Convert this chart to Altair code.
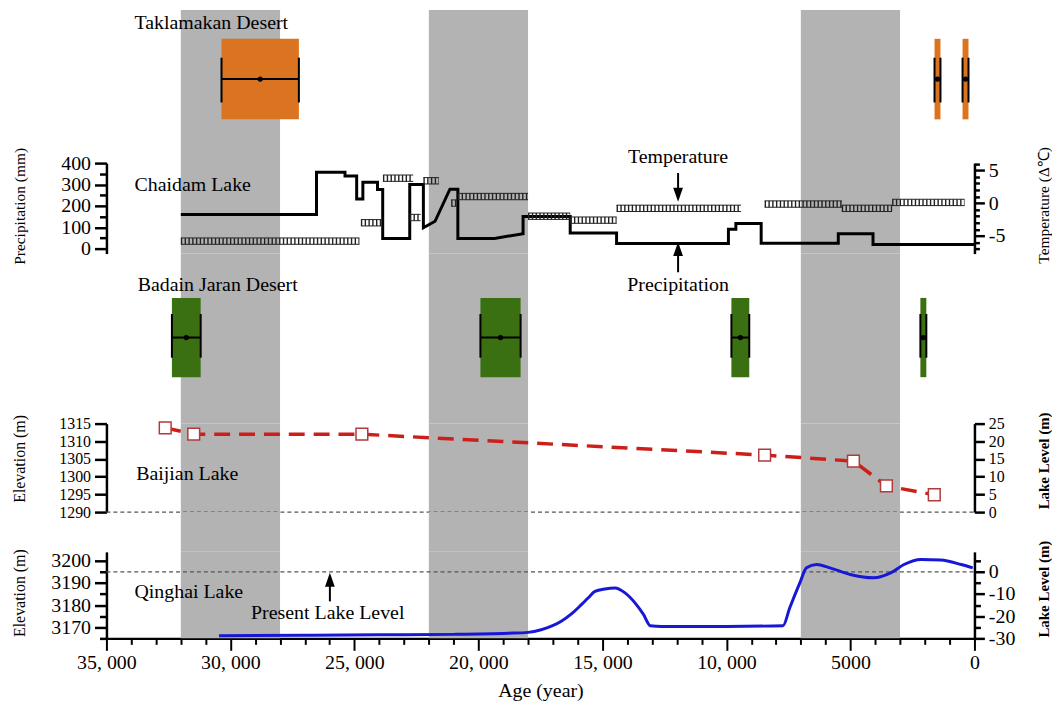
import altair as alt
import pandas as pd

FONT = "Liberation Serif"

# ---------------- data ----------------
# grey (cold) intervals, years BP
band_start = [32000, 22000, 7000]
band_end = [28000, 18000, 3000]

# Taklamakan Desert dated ages and errors (yr)
tak_age = [28800, 1490, 360]
tak_err = [1560, 120, 120]

# Badain Jaran Desert dated ages and errors (yr)
bad_age = [31780, 19110, 9440, 2060]
bad_err = [580, 810, 360, 120]

# Chaidam Lake precipitation (mm), outline vertices
pre_age = [32000, 26530, 26530, 25380, 25380, 24910, 24910, 24660, 24660, 24070,
           24070, 23860, 23860, 22770, 22770, 22220, 22220, 21750, 21150, 20830,
           20830, 19350, 18200, 18200, 16300, 16300, 14430, 14430, 9920, 9920,
           9620, 9620, 8600, 8600, 5490, 5490, 4090, 4090, 0]
pre_mm = [160, 160, 357, 357, 340, 340, 232, 232, 310, 310,
          277, 277, 48, 48, 300, 300, 98, 128, 278, 278,
          48, 48, 70, 150, 150, 73, 73, 24, 24, 91,
          91, 118, 118, 25, 25, 70, 70, 19, 19]

# Chaidam Lake temperature anomaly segments (deg C)
tmp_start = [32000, 24740, 23850, 22770, 22220, 21100, 20830, 18000, 16300, 14430, 8460, 5350, 3320]
tmp_end = [24800, 23920, 22630, 22330, 21590, 20850, 18000, 16300, 14430, 9410, 5350, 3320, 400]
tmp_val = [-5.8, -3.0, 3.8, -2.2, 3.4, 0.0, 1.0, -2.0, -2.6, -0.8, -0.15, -0.8, 0.1]

# Baijian Lake
bai_age = [32630, 31480, 24700, 8460, 4880, 3550, 1620]
bai_level = [23.8, 22.0, 22.0, 16.1, 14.4, 7.4, 4.9]
bai_base = 1290

# Qinghai Lake
qh_age = [30460, 27000, 24000, 21000, 18800, 18000, 17470, 16660, 16250, 15850,
          15580, 15300, 14900, 14490, 14090, 13680, 13340, 13070, 12600, 10000,
          7720, 7450, 7040, 6770, 6370, 5830, 5010, 4060, 3380, 2840,
          2170, 1360, 540, 70]
qh_elev = [3166.2, 3166.4, 3166.6, 3166.8, 3167.3, 3167.7, 3168.9, 3172.7, 3176.0, 3180.2,
           3183.2, 3186.2, 3187.3, 3187.7, 3185.5, 3180.9, 3175.7, 3170.7, 3170.4, 3170.4,
           3170.7, 3178.7, 3190.0, 3196.8, 3198.3, 3196.8, 3193.8, 3192.3, 3194.5, 3198.3,
           3200.6, 3200.3, 3198.3, 3196.8]
qh_present = 3195

# ---------------- layout ----------------
W = 873
HA, HB, HC, HD, HE, HF = 154, 91, 171, 89, 40, 87
XS = alt.Scale(domain=[35000, 0], nice=False, zero=False)

X_AXIS = alt.Axis(
    values=list(range(0, 35001, 1000)),
    labelExpr="datum.value % 5000 !== 0 ? '' : (datum.value >= 10000 ? floor(datum.value / 1000) + ', 000' : '' + datum.value)",
    tickSize={"condition": {"test": "datum.value % 5000 === 0", "value": 12}, "value": 6},
    title="Age (year)", titleFontSize=20, titlePadding=8, titleFontWeight="normal",
    labelFontSize=20, labelPadding=2, labelFlush=False, labelOverlap=False,
    domainWidth=2.5, tickWidth=2, grid=False,
)


def yaxis(**kw):
    base = dict(labelOverlap=False, labelFlush=False, grid=False, labelFontSize=20,
                titleFontSize=16, titleFontWeight="normal", titleBaseline="middle",
                titleAngle=270, labelPadding=4)
    base.update(kw)
    return alt.Axis(**base)


def xch(field, axis=None):
    return alt.X(field, type="quantitative", scale=XS, axis=axis)


bands_df = pd.DataFrame({"s": band_start, "e": band_end})


def bands(h, axis=None):
    return alt.Chart(bands_df).mark_rect(color="#b3b3b3").encode(
        x=xch("s", axis), x2="e", y=alt.value(0), y2=alt.value(h))


def label(text, age, y, align="left", axis=None, size=20):
    df = pd.DataFrame({"age": [age], "t": [text]})
    return alt.Chart(df).mark_text(align=align, baseline="middle", fontSize=size,
                                   font=FONT, color="black").encode(
        x=xch("age", axis), y=alt.value(y), text="t:N")


DOWN = "M -0.7 -2 L 0.7 -2 L 0 0 Z"
UP = "M -0.7 2 L 0.7 2 L 0 0 Z"


def arrow(age, y_tail, y_tip, axis=None):
    df = pd.DataFrame({"age": [age]})
    down = y_tip > y_tail
    shaft_end = y_tip - 12 if down else y_tip + 12
    shaft = alt.Chart(df).mark_rule(color="black", strokeWidth=2).encode(
        x=xch("age", axis), y=alt.value(y_tail), y2=alt.value(shaft_end))
    tip = alt.Chart(df).mark_point(shape=DOWN if down else UP, filled=True, color="black",
                                   size=196, opacity=1).encode(
        x=xch("age", axis), y=alt.value(y_tip))
    return alt.layer(shaft, tip)


def desert(ages, errs, color, y0, y1, c0, c1):
    df = pd.DataFrame({"age": ages, "err": errs})
    df["lo"] = df["age"] + df["err"]
    df["hi"] = df["age"] - df["err"]
    yc = (y0 + y1) / 2
    box = alt.Chart(df).mark_rect(color=color).encode(
        x=xch("lo"), x2="hi", y=alt.value(y0), y2=alt.value(y1))
    bar = alt.Chart(df).mark_rule(color="black", strokeWidth=2).encode(
        x=xch("lo"), x2="hi", y=alt.value(yc))
    cap1 = alt.Chart(df).mark_rule(color="black", strokeWidth=2).encode(
        x=xch("lo"), y=alt.value(c0), y2=alt.value(c1))
    cap2 = alt.Chart(df).mark_rule(color="black", strokeWidth=2).encode(
        x=xch("hi"), y=alt.value(c0), y2=alt.value(c1))
    dot = alt.Chart(df).mark_point(filled=True, color="black", size=28, opacity=1).encode(
        x=xch("age"), y=alt.value(yc))
    return alt.layer(box, bar, cap1, cap2, dot)


# ---------------- panel A: Taklamakan ----------------
A = alt.layer(
    bands(HA),
    desert(tak_age, tak_err, "#db7420", 29, 110, 48, 93),
    label("Taklamakan Desert", 33870, 13),
    label("Temperature", 11950, 148, align="center"),
).properties(width=W, height=HA)

# ---------------- panel B: Chaidam ----------------
pre_df = pd.DataFrame({"age": pre_age, "mm": pre_mm, "i": list(range(len(pre_age)))})
P_AXIS = yaxis(orient="left", values=list(range(0, 401, 50)),
               labelExpr="datum.value % 100 === 0 ? '' + datum.value : ''",
               tickSize={"condition": {"test": "datum.value % 100 === 0", "value": 12}, "value": 7},
               title="Precipitation (mm)", titleX=-87, titleY=43, titleFontSize=15.5)
precip = alt.Chart(pre_df).mark_line(color="black", strokeWidth=3, strokeJoin="miter").encode(
    x=xch("age"),
    y=alt.Y("mm:Q", scale=alt.Scale(domain=[-23, 400], nice=False, zero=False), axis=P_AXIS),
    order="i:Q")

tmp_df = pd.DataFrame({"s": tmp_start, "e": tmp_end, "v": tmp_val})
T_AXIS = yaxis(orient="right", values=list(range(-7, 7)),
               labelExpr="datum.value % 5 === 0 ? '' + datum.value : ''",
               tickSize={"condition": {"test": "datum.value % 5 === 0", "value": 10}, "value": 5},
               title="Temperature (Δ℃)", titleX=69, titleY=42, titleFontSize=15.5)
ty = alt.Y("v:Q", scale=alt.Scale(domain=[-7.7, 6.1], nice=False, zero=False), axis=T_AXIS)
hatch = alt.Chart(tmp_df).mark_rule(color="#222222", strokeWidth=6.5, strokeDash=[1.4, 2.4]).encode(
    x=xch("s"), x2="e", y=ty)
edge_t = alt.Chart(tmp_df).mark_rule(color="#222222", strokeWidth=1, yOffset=-3.2).encode(
    x=xch("s"), x2="e", y=ty)
edge_b = alt.Chart(tmp_df).mark_rule(color="#222222", strokeWidth=1, yOffset=3.2).encode(
    x=xch("s"), x2="e", y=ty)

B = alt.layer(
    alt.layer(bands(HB), precip, label("Chaidam Lake", 33870, 22), arrow(11950, 10, 38.8)),
    alt.layer(hatch, edge_t, edge_b),
).resolve_scale(y="independent").properties(width=W, height=HB)

# ---------------- panel C: Badain Jaran ----------------
C = alt.layer(
    bands(HC),
    desert(bad_age, bad_err, "#3a7012", 44.6, 124.3, 60.8, 104.7),
    label("Badain Jaran Desert", 33740, 32),
    label("Precipitation", 11950, 32, align="center"),
    arrow(11950, 18.8, -11.6),
).properties(width=W, height=HC)

# ---------------- panel D: Baijian ----------------
bai_df = pd.DataFrame({"age": bai_age, "level": bai_level})
bai_df["elev"] = bai_base + bai_df["level"]
EB_AXIS = yaxis(orient="left", values=list(range(1290, 1316, 5)), tickSize=12,
                labelExpr="'' + datum.value", labelFontSize=16,
                title="Elevation (m)", titleX=-87, titleY=35)
ey = alt.Y("elev:Q", scale=alt.Scale(domain=[1290, 1315], nice=False, zero=False), axis=EB_AXIS)
bdash = alt.Chart(pd.DataFrame({"elev": [bai_base]})).mark_rule(
    color="#555555", strokeWidth=1.2, strokeDash=[4, 3]).encode(
    x=alt.value(0), x2=alt.value(W), y=ey)
bline = alt.Chart(bai_df).mark_line(color="#cc1f1a", strokeWidth=3.5, strokeDash=[16, 9]).encode(
    x=xch("age"), y=ey)
bpts = alt.Chart(bai_df).mark_point(shape="square", filled=True, fill="white", stroke="#b23a3a",
                                    strokeWidth=1.5, size=140, opacity=1).encode(
    x=xch("age"), y=ey)
LB_AXIS = yaxis(orient="right", values=list(range(0, 26, 5)), tickSize=10,
                labelExpr="'' + datum.value", labelFontSize=16,
                title="Lake Level (m)", titleX=69, titleY=37, titleFontWeight="bold", titleFontSize=15)
right_b = alt.Chart(pd.DataFrame({"lv": [0]})).mark_point(opacity=0).encode(
    y=alt.Y("lv:Q", scale=alt.Scale(domain=[0, 25], nice=False, zero=False), axis=LB_AXIS))

D = alt.layer(
    alt.layer(bands(HD), bdash, bline, bpts, label("Baijian Lake", 33800, 51)),
    right_b,
).resolve_scale(y="independent").properties(width=W, height=HD)

# ---------------- panel E: spacer ----------------
E = alt.layer(bands(HE)).properties(width=W, height=HE)

# ---------------- panel F: Qinghai ----------------
qh_df = pd.DataFrame({"age": qh_age, "elev": qh_elev})
EQ_AXIS = yaxis(orient="left", values=list(range(3165, 3201, 5)),
                labelExpr="datum.value % 10 === 0 ? '' + datum.value : ''",
                tickSize={"condition": {"test": "datum.value % 10 === 0", "value": 12}, "value": 7},
                title="Elevation (m)", titleX=-87, titleY=41)
qy = alt.Y("elev:Q", scale=alt.Scale(domain=[3165, 3204], nice=False, zero=False), axis=EQ_AXIS)
qdash = alt.Chart(pd.DataFrame({"elev": [qh_present]})).mark_rule(
    color="#555555", strokeWidth=1.2, strokeDash=[4, 3]).encode(
    x=alt.value(0), x2=alt.value(W), y=qy)
qline = alt.Chart(qh_df).mark_line(color="#1717d6", strokeWidth=3, interpolate="monotone").encode(
    x=xch("age", X_AXIS), y=qy)
LQ_AXIS = yaxis(orient="right", values=list(range(-30, 6, 5)),
                labelExpr="datum.value % 10 === 0 ? '' + datum.value : ''",
                tickSize={"condition": {"test": "datum.value % 10 === 0", "value": 10}, "value": 6},
                title="Lake Level (m)", titleX=69, titleY=37, titleFontWeight="bold", titleFontSize=15)
right_q = alt.Chart(pd.DataFrame({"lv": [0]})).mark_point(opacity=0).encode(
    y=alt.Y("lv:Q", scale=alt.Scale(domain=[-30, 9], nice=False, zero=False), axis=LQ_AXIS))

F = alt.layer(
    alt.layer(bands(HF, X_AXIS), qdash, qline,
              label("Qinghai Lake", 33870, 40.5, axis=X_AXIS),
              label("Present Lake Level", 29170, 61.3, axis=X_AXIS),
              arrow(25990, 49.8, 21, axis=X_AXIS)),
    right_q,
).resolve_scale(y="independent").properties(width=W, height=HF)

chart = alt.vconcat(A, B, C, D, E, F, spacing=0, bounds="flush").properties(
    padding={"left": 4, "top": 0, "right": 0, "bottom": 0}
).configure_view(strokeWidth=0).configure_axis(
    domainColor="black", domainWidth=2.5, tickColor="black", tickWidth=2.5,
    labelColor="black", titleColor="black", labelFont=FONT, titleFont=FONT,
).configure_text(font=FONT)

chart.save("out.html", embed_options={"renderer": "svg", "actions": False})
